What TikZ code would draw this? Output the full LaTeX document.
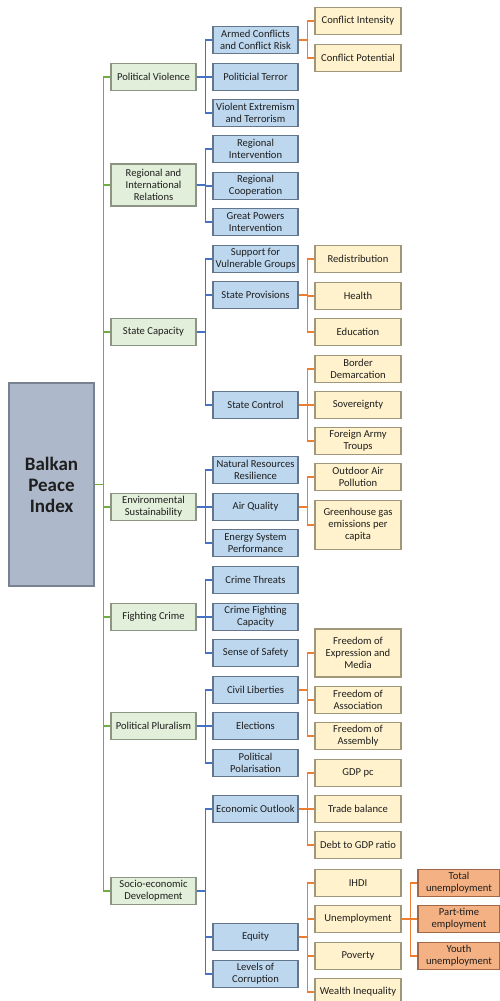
\documentclass[tikz,border=0pt]{standalone}
\usepackage{fontspec}
\setmainfont{Carlito}
\usepackage{tikz}
\usetikzlibrary{positioning}
\definecolor{rootfill}{RGB}{173,185,202}
\definecolor{rootedge}{RGB}{120,130,145}
\definecolor{pillarfill}{RGB}{226,239,218}
\definecolor{pillaredge}{RGB}{140,148,130}
\definecolor{domainfill}{RGB}{189,215,238}
\definecolor{domainedge}{RGB}{100,118,140}
\definecolor{indfill}{RGB}{255,242,204}
\definecolor{indedge}{RGB}{160,150,120}
\definecolor{subfill}{RGB}{244,177,131}
\definecolor{subedge}{RGB}{160,104,70}
\definecolor{greenlink}{RGB}{112,173,71}
\definecolor{bluelink}{RGB}{68,114,196}
\definecolor{orangelink}{RGB}{237,125,49}
\definecolor{textdark}{RGB}{30,30,30}

\begin{document}
\begin{tikzpicture}[
    x=1pt, y=-1pt,
    boxnode/.style={draw, line width=1.4pt, minimum width=85pt, minimum height=27pt, inner sep=1pt, align=center, text=textdark, font=\fontsize{10.6}{12}\selectfont},
    rootnode/.style={boxnode, draw=rootedge, fill=rootfill, minimum height=203pt, font=\bfseries\fontsize{19}{21}\selectfont},
    pillarnode/.style={boxnode, draw=pillaredge, fill=pillarfill},
    domainnode/.style={boxnode, draw=domainedge, fill=domainfill},
    indnode/.style={boxnode, draw=indedge, fill=indfill, minimum width=86pt},
    subnode/.style={boxnode, draw=subedge, fill=subfill, minimum width=82pt},
    greenline/.style={draw=greenlink, line width=1.4pt},
    blueline/.style={draw=bluelink, line width=1.4pt},
    orangeline/.style={draw=orangelink, line width=1.4pt}
]
\useasboundingbox (0,0) rectangle (500,1001);

\node[rootnode] (root) at (51.5,484.5) {Balkan\\Peace\\Index};

% pillars
\node[pillarnode] (pv) at (153.5,77) {Political Violence};
\node[pillarnode, minimum height=42pt] (rir) at (153.5,185) {Regional and\\International\\Relations};
\node[pillarnode] (sc) at (153.5,332) {State Capacity};
\node[pillarnode] (es) at (153.5,507) {Environmental\\Sustainability};
\node[pillarnode] (fc) at (153.5,617) {Fighting Crime};
\node[pillarnode] (pp) at (153.5,726) {Political Pluralism};
\node[pillarnode] (sed) at (153.5,891) {Socio-economic\\Development};

% domains
\node[domainnode] (acr) at (255.5,40) {Armed Conflicts\\and Conflict Risk};
\node[domainnode] (pt) at (255.5,77) {Politicial Terror};
\node[domainnode] (vet) at (255.5,113) {Violent Extremism\\and Terrorism};
\node[domainnode] (ri) at (255.5,149) {Regional\\Intervention};
\node[domainnode] (rc) at (255.5,186) {Regional\\Cooperation};
\node[domainnode] (gpi) at (255.5,222) {Great Powers\\Intervention};
\node[domainnode] (svg) at (255.5,259) {Support for\\Vulnerable Groups};
\node[domainnode] (spr) at (255.5,295) {State Provisions};
\node[domainnode] (sct) at (255.5,405) {State Control};
\node[domainnode] (nrr) at (255.5,470) {Natural Resources\\Resilience};
\node[domainnode] (aq) at (255.5,507) {Air Quality};
\node[domainnode] (esp) at (255.5,543) {Energy System\\Performance};
\node[domainnode] (ct) at (255.5,580) {Crime Threats};
\node[domainnode] (cfc) at (255.5,617) {Crime Fighting\\Capacity};
\node[domainnode] (sos) at (255.5,653) {Sense of Safety};
\node[domainnode] (cl) at (255.5,690) {Civil Liberties};
\node[domainnode] (el) at (255.5,726) {Elections};
\node[domainnode] (pol) at (255.5,763) {Political\\Polarisation};
\node[domainnode] (eo) at (255.5,809) {Economic Outlook};
\node[domainnode] (eq) at (255.5,937) {Equity};
\node[domainnode] (loc) at (255.5,974) {Levels of\\Corruption};

% indicators
\node[indnode] (ci) at (358,21) {Conflict Intensity};
\node[indnode] (cp) at (358,58) {Conflict Potential};
\node[indnode] (red) at (358,259) {Redistribution};
\node[indnode] (hea) at (358,296) {Health};
\node[indnode] (edu) at (358,332) {Education};
\node[indnode] (bd) at (358,369) {Border\\Demarcation};
\node[indnode] (sov) at (358,405) {Sovereignty};
\node[indnode] (fat) at (358,441) {Foreign Army\\Troups};
\node[indnode] (oap) at (358,477) {Outdoor Air\\Pollution};
\node[indnode, minimum height=49pt] (ghg) at (358,525) {Greenhouse gas\\emissions per\\capita};
\node[indnode, minimum height=48pt] (fem) at (358,653) {Freedom of\\Expression and\\Media};
\node[indnode] (fas) at (358,700) {Freedom of\\Association};
\node[indnode] (fay) at (358,736) {Freedom of\\Assembly};
\node[indnode] (gdp) at (358,773) {GDP pc};
\node[indnode] (tb) at (358,809) {Trade balance};
\node[indnode] (dgr) at (358,845) {Debt to GDP ratio};
\node[indnode] (ihdi) at (358,883) {IHDI};
\node[indnode] (unem) at (358,919) {Unemployment};
\node[indnode] (pov) at (358,956) {Poverty};
\node[indnode] (wi) at (358,992) {Wealth Inequality};

% sub-indicators
\node[subnode] (tu) at (459,883) {Total\\unemployment};
\node[subnode] (pte) at (459,919) {Part-time\\employment};
\node[subnode] (yu) at (459,956) {Youth\\unemployment};

\foreach \j in {pv,rir,sc,es,fc,pp,sed}
  \draw[greenline] (root.east) -- ++(9,0) |- (\j.west);

\foreach \i/\j in {pv/acr,pv/pt,pv/vet,rir/ri,rir/rc,rir/gpi,sc/svg,sc/spr,sc/sct,es/nrr,es/aq,es/esp,fc/ct,fc/cfc,fc/sos,pp/cl,pp/el,pp/pol,sed/eo,sed/eq,sed/loc}
  \draw[blueline] (\i.east) -- ++(8.5,0) |- (\j.west);

\foreach \i/\j in {acr/ci,acr/cp,spr/red,spr/hea,spr/edu,sct/bd,sct/sov,sct/fat,aq/oap,aq/ghg,cl/fem,cl/fas,cl/fay,eo/gdp,eo/tb,eo/dgr,eq/ihdi,eq/unem,eq/pov,eq/wi,unem/tu,unem/pte,unem/yu}
  \draw[orangeline] (\i.east) -- ++(8.5,0) |- (\j.west);
\end{tikzpicture}
\end{document}
